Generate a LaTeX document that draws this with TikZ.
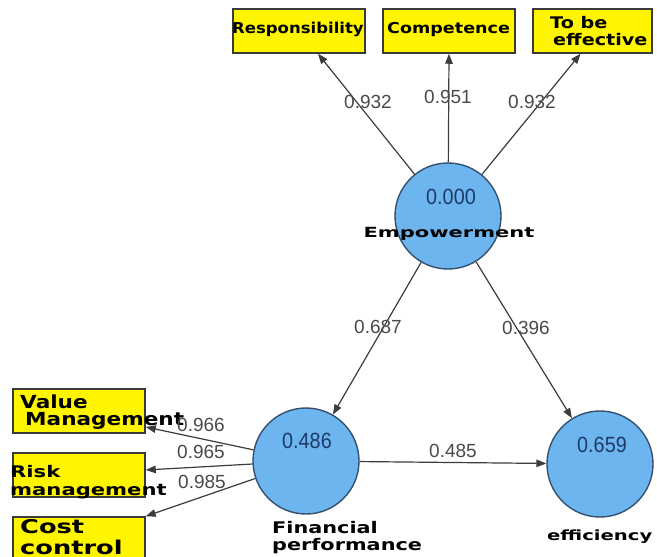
\documentclass[tikz,border=0pt]{standalone}
\usepackage{fontspec}
\usepackage{graphicx}
\usetikzlibrary{arrows.meta}
\newfontfamily\lblfont{DejaVu Sans}
\newfontfamily\numfont{Liberation Sans}
\definecolor{boxyellow}{HTML}{FFF500}
\definecolor{boxborder}{HTML}{3A3A3A}
\definecolor{circblue}{HTML}{6DB5EF}
\definecolor{circborder}{HTML}{34506E}
\definecolor{linegray}{HTML}{3C3C3C}
\definecolor{numgray}{HTML}{4A4A4A}
\definecolor{numblue}{HTML}{1E3A66}
\newcommand{\hs}[2]{\scalebox{#1}[1]{#2}}
\tikzset{
  ybox/.style={draw=boxborder, line width=1.5pt, fill=boxyellow, rectangle, inner sep=0pt},
  lv/.style={draw=circborder, line width=1.4pt, fill=circblue, circle, inner sep=0pt, minimum size=106pt},
  conn/.style={draw=linegray, line width=1.2pt, -{Triangle[length=10pt,width=7.5pt]}},
  btxt/.style={inner sep=0pt, anchor=base west, font=\lblfont\bfseries, text=black},
  ptxt/.style={inner sep=0pt, font={\numfont\fontsize{19}{19}\selectfont}, text=numgray},
  cval/.style={inner sep=0pt, font={\numfont\fontsize{22}{22}\selectfont}, text=numblue},
}
\begin{document}
\begin{tikzpicture}[x=1pt,y=-1pt]
\useasboundingbox[fill=white] (0,0) rectangle (657,557);
% indicator boxes
\node[ybox, minimum width=132pt, minimum height=44pt] (resp) at (299,31) {};
\node[ybox, minimum width=132pt, minimum height=44pt] (comp) at (449,31) {};
\node[ybox, minimum width=119pt, minimum height=44pt] (tbe) at (592.5,31) {};
\node[ybox, minimum width=132pt, minimum height=44pt] (vm) at (79,411) {};
\node[ybox, minimum width=132pt, minimum height=44pt] (rm) at (79,475) {};
\node[ybox, minimum width=132pt, minimum height=50pt] (cc) at (79,542) {};
% latent variables
\node[lv] (emp) at (448,216) {};
\node[lv] (fp) at (306,461) {};
\node[lv] (eff) at (600,464) {};
% connectors
\draw[conn] (emp) -- ([xshift=19pt]resp.south);
\draw[conn] (emp) -- (comp.south);
\draw[conn] (emp) -- ([xshift=-12pt]tbe.south);
\draw[conn] (emp) -- (fp);
\draw[conn] (emp) -- (eff);
\draw[conn] (fp) -- (eff);
\draw[conn] (fp) -- ([yshift=-16pt]vm.east);
\draw[conn] (fp) -- ([yshift=5pt]rm.east);
\draw[conn] (fp) -- (cc.north east);
% box texts
\node[btxt] (tresp) at (232,33) {\fontsize{15}{15}\selectfont\hs{1.1}{Responsibility}};
\node[btxt] (tcomp) at (387,33) {\fontsize{15}{15}\selectfont\hs{1.17}{Competence}};
\node[btxt] (ttbe1) at (550,28) {\fontsize{16}{16}\selectfont\hs{1.2}{To be}};
\node[btxt] (ttbe2) at (553,45) {\fontsize{16}{16}\selectfont\hs{1.2}{effective}};
\node[btxt] (tvm1) at (20,408) {\fontsize{18}{18}\selectfont\hs{1.2}{Value}};
\node[btxt] (tvm2) at (25,425) {\fontsize{18}{18}\selectfont\hs{1.2}{Management}};
\node[btxt] (trm1) at (10,477) {\fontsize{16}{16}\selectfont\hs{1.32}{Risk}};
\node[btxt] (trm2) at (10,495) {\fontsize{16}{16}\selectfont\hs{1.32}{management}};
\node[btxt] (tcc1) at (20,533) {\fontsize{19}{19}\selectfont\hs{1.35}{Cost}};
\node[btxt] (tcc2) at (20,554) {\fontsize{19}{19}\selectfont\hs{1.35}{control}};
% latent names
\node[btxt, anchor=base] (temp) at (449,237) {\fontsize{14}{14}\selectfont\hs{1.5}{Empowerment}};
\node[btxt] (tfp1) at (272,533) {\fontsize{16}{16}\selectfont\hs{1.3}{Financial}};
\node[btxt] (tfp2) at (272,550) {\fontsize{16}{16}\selectfont\hs{1.3}{performance}};
\node[btxt] (teff) at (547,540) {\fontsize{14}{14}\selectfont\hs{1.4}{efficiency}};
% circle values
\node[cval] (v1) at (451,197) {\hs{0.9}{0.000}};
\node[cval] (v2) at (307,441) {\hs{0.9}{0.486}};
\node[cval] (v3) at (602,445) {\hs{0.9}{0.659}};
% path labels
\node[ptxt] (p1) at (368,102) {0.932};
\node[ptxt] (p2) at (448,97) {0.951};
\node[ptxt] (p3) at (532,102) {0.932};
\node[ptxt] (p4) at (378,327) {0.687};
\node[ptxt] (p5) at (526,328) {0.396};
\node[ptxt] (p6) at (453,451) {0.485};
\node[ptxt] (p7) at (201,425) {0.966};
\node[ptxt] (p8) at (201,452) {0.965};
\node[ptxt] (p9) at (202,482) {0.985};
\end{tikzpicture}
\end{document}
